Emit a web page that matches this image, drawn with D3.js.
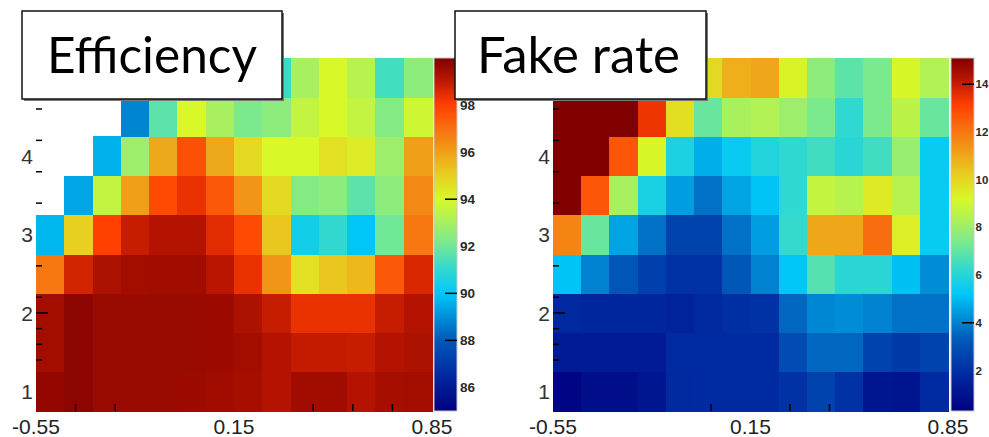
<!DOCTYPE html>
<html><head><meta charset="utf-8">
<script src="https://cdn.jsdelivr.net/npm/d3@7"></script>
<style>body{margin:0;background:#fff}svg{display:block}</style>
</head><body>
<svg id="c" width="989" height="437"></svg>
<script>
// ---- data ----
const xBinCenters = [-0.5,-0.4,-0.3,-0.2,-0.1,0.0,0.1,0.2,0.3,0.4,0.5,0.6,0.7,0.8];
const yBinCenters = [1.0,1.5,2.0,2.5,3.0,3.5,4.0,4.5,5.0];
const efficiency = [
  [99.7,99.8,99.6,99.6,99.6,99.55,99.5,99.4,99.2,99.5,99.5,99.2,99.4,99.45],
  [99.45,99.8,99.6,99.6,99.6,99.6,99.55,99.45,99.2,98.95,98.95,98.9,99.2,99.3],
  [99.45,99.8,99.6,99.6,99.6,99.6,99.55,99.3,98.9,98.35,98.35,98.35,98.9,99.2],
  [96.85,98.7,99.3,99.45,99.5,99.5,99.1,98.35,96.25,94.6,95.2,95.5,97.5,98.6],
  [89.7,95.0,98.0,98.9,99.2,99.2,98.5,97.8,95.2,90.4,91.0,89.95,92.0,96.85],
  [null,89.4,93.55,96.0,97.8,98.35,97.5,96.25,94.75,92.35,92.5,91.7,92.5,96.5],
  [null,null,89.6,92.8,95.8,97.7,95.8,94.75,94.0,94.0,94.6,94.3,92.8,96.0],
  [null,null,null,88.8,91.7,94.0,93.0,92.2,92.5,93.55,94.0,93.55,92.35,93.8],
  [null,null,null,null,92.5,93.5,93.0,92.5,91.15,93.0,94.0,93.3,91.3,92.5]
];
const fakeRate = [
  [0.5,0.8,0.8,1.1,1.8,1.85,1.85,1.85,2.1,2.6,2.1,1.1,1.0,1.85],
  [1.3,1.3,1.3,1.3,1.85,1.85,1.85,1.85,2.9,3.5,3.5,2.6,2.3,2.6],
  [1.8,1.7,1.7,1.7,1.6,1.8,2.0,2.1,3.5,4.1,4.2,4.0,3.7,3.7],
  [5.15,4.0,3.2,2.5,2.1,2.1,3.2,4.0,5.2,6.8,6.1,6.1,5.1,4.2],
  [11.7,7.1,4.6,3.7,2.6,2.6,3.7,4.5,6.3,11.0,11.0,12.2,9.4,5.4],
  [15.5,12.7,8.2,5.75,4.5,3.7,4.6,5.15,6.2,8.75,8.5,9.5,8.5,5.4],
  [15.5,15.5,12.7,9.2,5.8,4.8,5.4,5.9,6.2,6.5,6.1,6.5,7.9,5.4],
  [15.5,15.5,15.5,13.4,9.8,7.1,8.2,8.4,8.0,7.4,6.2,7.4,8.6,7.1],
  [15.5,15.5,15.5,14.0,11.0,9.95,10.85,11.0,9.3,7.7,6.9,7.4,9.2,8.4]
];
const xTickValues = [-0.55, 0.15, 0.85];
const xTickLabels = ["-0.55", "0.15", "0.85"];
const yTickValues = [1, 2, 3, 4];
const yTickLabels = ["1", "2", "3", "4"];
const yMajorTickMarks = [2];
const yMinorTickMarks = [1.4, 1.6, 1.8, 2.2, 2.6, 3.4, 3.8, 4.2, 4.6];
const effXMinorTickMarks = [-0.41, -0.27, 0.43, 0.57, 0.71];
const fakeXMinorTickMarks = [0.01, 0.29, 0.43];
const effBarLabels = [86, 88, 90, 92, 94, 96, 98];
const fakeBarLabels = [2, 4, 6, 8, 10, 12, 14];
const effBarTickMarks = [94, 90, 88];
const fakeBarTickMarks = [14, 4];
const effRange = [85, 100];
const fakeRange = [0.3, 15.1];
const titles = ["Efficiency", "Fake rate"];

// ---- palette (rainbow) ----
const palT = [0,0.1,0.2,0.267,0.333,0.4,0.467,0.533,0.6,0.667,0.733,0.8,0.867,0.933,1];
const palC = ["#00007f","#0028a0","#0058b8","#0090d8","#00c8f8","#30d8d0","#70e898","#a8f060","#d8f828","#e8d020","#f0a018","#f87010","#ff4000","#c01800","#800000"];
const pal = d3.scaleLinear().domain(palT).range(palC).interpolate(d3.interpolateRgb).clamp(true);

const svg = d3.select("#c");
const binW = 0.1, binH = 0.5;
const y = d3.scaleLinear().domain([0.75, 5.25]).range([411, 58]);

function panel(cfg) {
  const x = d3.scaleLinear().domain([-0.55, 0.85]).range([cfg.x0, cfg.x1]);
  const z = d3.scaleLinear().domain(cfg.range).range([0, 1]);
  const g = svg.append("g");
  const cells = [];
  cfg.data.forEach((row, ri) => row.forEach((v, ci) => {
    if (v !== null) cells.push({x: xBinCenters[ci], y: yBinCenters[ri], v});
  }));
  g.selectAll("rect.cell").data(cells).join("rect").attr("class","cell")
    .attr("x", d => x(d.x - binW/2))
    .attr("width", d => x(d.x + binW/2) - x(d.x - binW/2) + 0.5)
    .attr("y", d => y(d.y + binH/2))
    .attr("height", d => y(d.y - binH/2) - y(d.y + binH/2) + 0.5)
    .attr("fill", d => pal(z(d.v)))
    .attr("shape-rendering", "crispEdges");

  // inner ticks
  g.selectAll("line.ymaj").data(yMajorTickMarks).join("line")
    .attr("x1", cfg.x0).attr("x2", cfg.x0 + 12)
    .attr("y1", d => y(d)).attr("y2", d => y(d))
    .attr("stroke", "#000").attr("stroke-width", 1.5);
  g.selectAll("line.ymin").data(yMinorTickMarks).join("line")
    .attr("x1", cfg.x0).attr("x2", cfg.x0 + 6)
    .attr("y1", d => y(d)).attr("y2", d => y(d))
    .attr("stroke", "#000").attr("stroke-width", 1.5);
  g.selectAll("line.xmin").data(cfg.xMinor).join("line")
    .attr("x1", d => x(d)).attr("x2", d => x(d))
    .attr("y1", 411).attr("y2", 404)
    .attr("stroke", "#000").attr("stroke-width", 1.5);

  // tick labels
  g.selectAll("text.xl").data(xTickValues).join("text")
    .attr("x", d => x(d)).attr("y", 434)
    .attr("text-anchor", "middle")
    .style("font", "21px 'Liberation Sans', Arial, sans-serif")
    .attr("fill", "#222")
    .text((d, i) => xTickLabels[i]);
  g.selectAll("text.yl").data(yTickValues).join("text")
    .attr("x", cfg.x0 - 3).attr("y", d => y(d)).attr("dy", "0.36em")
    .attr("text-anchor", "end")
    .style("font", "21px 'Liberation Sans', Arial, sans-serif")
    .attr("fill", "#333")
    .text((d, i) => yTickLabels[i]);

  // colour bar
  const gid = "grad" + cfg.id;
  const grad = svg.append("defs").append("linearGradient").attr("id", gid)
    .attr("x1", 0).attr("y1", 1).attr("x2", 0).attr("y2", 0);
  grad.selectAll("stop").data(palT).join("stop")
    .attr("offset", d => d).attr("stop-color", (d, i) => palC[i]);
  const zy = d3.scaleLinear().domain(cfg.range).range([411, 58]);
  g.append("rect").attr("x", cfg.b0).attr("y", 58).attr("width", cfg.b1 - cfg.b0).attr("height", 353)
    .attr("fill", `url(#${gid})`).attr("stroke", "#c8c8c8").attr("stroke-width", 1);
  g.selectAll("line.bt").data(cfg.barTicks).join("line")
    .attr("x1", cfg.b1 - 12).attr("x2", cfg.b1)
    .attr("y1", d => zy(d)).attr("y2", d => zy(d))
    .attr("stroke", "#000").attr("stroke-width", 1.5);
  g.selectAll("text.bl").data(cfg.barLabels).join("text")
    .attr("x", cfg.b1 + cfg.labGap).attr("y", d => zy(d)).attr("dy", "0.36em")
    .style("font", `bold ${cfg.labSize}px 'Liberation Sans', Arial, sans-serif`)
    .attr("fill", "#2a2a2a")
    .text(d => d);
  return g;
}

panel({id: 0, data: efficiency, x0: 36, x1: 432, b0: 434, b1: 457, range: effRange,
  xMinor: effXMinorTickMarks, barLabels: effBarLabels, barTicks: effBarTickMarks, labSize: 13.5, labGap: 3});
panel({id: 1, data: fakeRate, x0: 553, x1: 948, b0: 951, b1: 974, range: fakeRange,
  xMinor: fakeXMinorTickMarks, barLabels: fakeBarLabels, barTicks: fakeBarTickMarks, labSize: 11.5, labGap: 1.5});

// title boxes
const boxes = [
  {x: 22, y: 11, w: 260, h: 88, tx: 47, tw: 210},
  {x: 455, y: 11, w: 251, h: 88, tx: 477, tw: 203}
];
boxes.forEach((b, i) => {
  svg.append("rect").attr("x", b.x + 2).attr("y", b.y + 2).attr("width", b.w).attr("height", b.h).attr("fill", "#777");
  svg.append("rect").attr("x", b.x).attr("y", b.y).attr("width", b.w).attr("height", b.h)
    .attr("fill", "#fff").attr("stroke", "#111").attr("stroke-width", 1.5);
  const t = svg.append("text").attr("x", b.tx).attr("y", 73)
    .style("font-family", "Lato, 'Open Sans', sans-serif").style("font-size", "44px")
    .attr("fill", "#000").text(titles[i]);
  const w = t.node().getComputedTextLength();
  t.style("font-size", (44 * b.tw / w) + "px");
});
</script>
</body></html>
